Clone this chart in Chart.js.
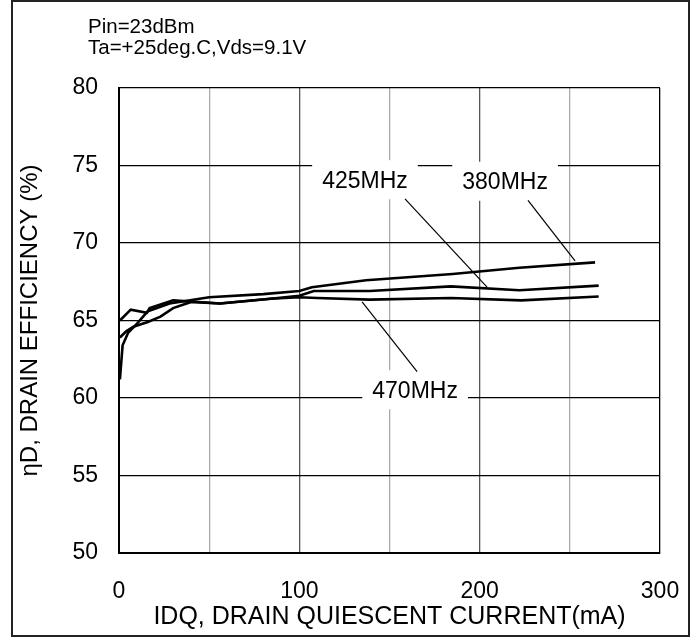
<!DOCTYPE html>
<html>
<head>
<meta charset="utf-8">
<script src="https://cdn.jsdelivr.net/npm/chart.js@4/dist/chart.umd.min.js"></script>
<style>
  html, body { margin: 0; padding: 0; background: #fff; }
  #wrap { width: 698px; height: 638px; position: relative; }
</style>
</head>
<body>
<div id="wrap"><canvas id="chart"></canvas></div>
<script>
// Drain efficiency vs quiescent current, three frequencies
const idq380 = [0.5, 2, 5, 10, 16, 28, 50, 80, 100, 107, 137, 185, 222, 264];
const eff380 = [61.2, 63.4, 64.2, 64.8, 65.6, 66.1, 66.5, 66.7, 66.9, 67.15, 67.6, 68.0, 68.4, 68.75];

const idq425 = [0.5, 4, 8, 16, 23, 30, 40, 56, 84, 100, 108, 139, 184, 222, 266];
const eff425 = [63.9, 64.3, 64.6, 64.9, 65.25, 65.8, 66.2, 66.1, 66.4, 66.6, 66.9, 66.9, 67.2, 66.95, 67.25];

const idq470 = [0.5, 6.5, 15.5, 17, 30, 56, 84, 100, 110, 139, 184, 223, 266];
const eff470 = [65.0, 65.7, 65.5, 65.8, 66.3, 66.1, 66.4, 66.5, 66.45, 66.35, 66.45, 66.3, 66.55];

const headerLines = ['Pin=23dBm', 'Ta=+25deg.C,Vds=9.1V'];

// callout text, its centre and the leader line, all in data units
const callouts = [
    { text: '425MHz', at: [136.4, 74.05], from: [158.6, 72.85], to: [204.1, 67.15] },
    { text: '380MHz', at: [214.1, 73.95], from: [226.8, 72.75], to: [252.9, 68.85] },
    { text: '470MHz', at: [164.2, 60.5], from: [165.3, 61.7], to: [134.8, 66.2] }
];

const FONT = "'Liberation Sans', Arial, sans-serif";

function toPoints(xs, ys) {
    return xs.map((x, i) => ({ x, y: ys[i] }));
}

function series(label, xs, ys) {
    return {
        label,
        data: toPoints(xs, ys),
        borderColor: '#000',
        borderWidth: 2.6,
        pointRadius: 0,
        tension: 0,
        fill: false
    };
}

const frame = {
    id: 'frame',
    beforeDraw(chart) {
        const ctx = chart.ctx;
        ctx.save();
        ctx.fillStyle = '#fff';
        ctx.fillRect(0, 0, chart.width, chart.height);
        ctx.strokeStyle = '#222';
        ctx.lineWidth = 2;
        ctx.strokeRect(12, 1, 677, 635);
        ctx.fillStyle = '#000';
        ctx.font = '20.5px ' + FONT;
        ctx.textBaseline = 'alphabetic';
        ctx.fillText(headerLines[0], 88, 33);
        ctx.fillText(headerLines[1], 88, 54);
        ctx.restore();
    }
};

const labels = {
    id: 'callouts',
    afterDatasetsDraw(chart) {
        const { ctx, scales: { x, y } } = chart;
        ctx.save();
        ctx.font = '23px ' + FONT;
        ctx.textAlign = 'center';
        ctx.textBaseline = 'middle';
        callouts.forEach(c => {
            const cx = x.getPixelForValue(c.at[0]);
            const cy = y.getPixelForValue(c.at[1]);
            const w = ctx.measureText(c.text).width + 20;
            ctx.fillStyle = '#fff';
            ctx.fillRect(cx - w / 2, cy - 20, w, 39);
            ctx.fillStyle = '#000';
            ctx.fillText(c.text, cx, cy + 1);
            ctx.beginPath();
            ctx.strokeStyle = '#000';
            ctx.lineWidth = 1.2;
            ctx.moveTo(x.getPixelForValue(c.from[0]), y.getPixelForValue(c.from[1]));
            ctx.lineTo(x.getPixelForValue(c.to[0]), y.getPixelForValue(c.to[1]));
            ctx.stroke();
        });
        ctx.restore();
    }
};

new Chart(document.getElementById('chart'), {
    type: 'line',
    data: {
        datasets: [
            series('380MHz', idq380, eff380),
            series('425MHz', idq425, eff425),
            series('470MHz', idq470, eff470)
        ]
    },
    options: {
        responsive: true,
        maintainAspectRatio: false,
        animation: false,
        layout: { padding: { top: 88, right: 38, left: 0, bottom: 0 } },
        plugins: {
            legend: { display: false },
            tooltip: { enabled: false }
        },
        scales: {
            x: {
                type: 'linear',
                min: 0,
                max: 300,
                afterFit: s => {
                    s.height = 85;
                    s.paddingLeft = 0;
                    s.paddingRight = 0;
                },
                border: { color: '#000', width: 2 },
                grid: {
                    drawTicks: false,
                    lineWidth: 1.3,
                    color: c => {
                        const v = c.tick.value;
                        if (v === 0 || v === 300) return '#000';
                        return v % 100 === 0 ? '#555' : '#aaa';
                    }
                },
                ticks: {
                    stepSize: 50,
                    autoSkip: false,
                    maxRotation: 0,
                    padding: 25,
                    color: '#000',
                    font: { family: FONT, size: 23 },
                    callback: v => (v % 100 === 0 ? v : '')
                },
                title: {
                    display: true,
                    text: 'IDQ, DRAIN QUIESCENT CURRENT(mA)',
                    color: '#000',
                    font: { family: FONT, size: 25 },
                    padding: { top: 0, bottom: 6 }
                }
            },
            y: {
                min: 50,
                max: 80,
                afterFit: s => {
                    s.width = 119;
                    s.paddingTop = 0;
                    s.paddingBottom = 0;
                },
                border: { color: '#000', width: 2 },
                grid: { drawTicks: false, color: '#000', lineWidth: 1.3 },
                ticks: {
                    stepSize: 5,
                    padding: 21,
                    color: '#000',
                    font: { family: FONT, size: 23 }
                },
                title: {
                    display: true,
                    text: 'ηD, DRAIN EFFICIENCY (%)',
                    color: '#000',
                    font: { family: FONT, size: 24 },
                    padding: { top: 16, bottom: 0 }
                }
            }
        }
    },
    plugins: [frame, labels]
});
</script>
</body>
</html>
